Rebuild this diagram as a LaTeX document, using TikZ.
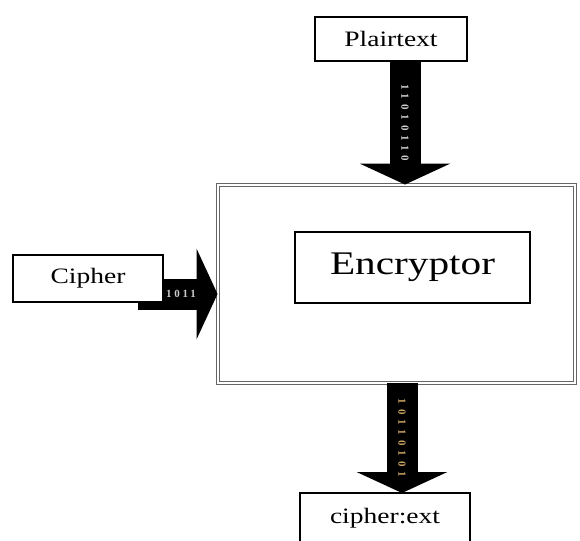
\documentclass[tikz,border=0pt]{standalone}
\usepackage{fontspec}
\setmainfont{Liberation Serif}
\usetikzlibrary{arrows.meta}

\definecolor{bitGold}{RGB}{196,160,96}
\newcommand{\wide}[1]{\scalebox{1.25}[1]{#1}}

\begin{document}
\begin{tikzpicture}[x=1pt, y=-1pt,
   box/.style={draw=black, line width=1.4pt, fill=white, inner sep=0pt,
               font=\fontsize{22}{26}\selectfont},
   encbox/.style={draw=black!60, double=white, double distance=1.4pt,
                  line width=0.9pt, inner sep=0pt},
   fat/.style={line width=31pt, -{Triangle[width=90pt, length=21pt]}},
   bits/.style={text=white!80!black,
                font=\fontsize{11}{12}\selectfont\bfseries\addfontfeature{LetterSpace=45}}]

  \useasboundingbox (0,0) rectangle (580,540);

  % ===== blocs =====
  \node[encbox, minimum width=357pt, minimum height=198pt] (outer) at (396.5,284) {};
  \node[draw=black, line width=1.4pt, inner sep=0pt, minimum width=235pt, minimum height=71pt,
        font=\fontsize{33}{40}\selectfont] (enc) at (412.5,267.5) {\wide{Encryptor}};

  % ===== fleches =====
  \coordinate (inTop) at (405,61);
  \coordinate (inKey) at (138,294);
  \coordinate (outBot) at (402,383);
  \draw[fat] (inTop) -- (inTop |- outer.north)
        node[midway, sloped, bits] {11010110};
  \draw[fat] (inKey) -- (inKey -| outer.west)
        node[pos=0.54, bits, font=\fontsize{11}{12}\selectfont\bfseries\addfontfeature{LetterSpace=25}] {1011};
  \draw[fat] (outBot) -- (402,493)
        node[midway, sloped, bits, text=bitGold] {10110101};

  % ===== entrees / sortie =====
  \node[box, minimum width=152pt, minimum height=44pt] (plain) at (391,39) {\wide{Plairtext}};
  \node[box, minimum width=150pt, minimum height=47pt] (key) at (88,278.5) {\wide{Cipher}};
  \node[box, minimum width=170pt, minimum height=50pt] (ctext) at (385,518) {\wide{cipher:ext}};

\end{tikzpicture}
\end{document}
